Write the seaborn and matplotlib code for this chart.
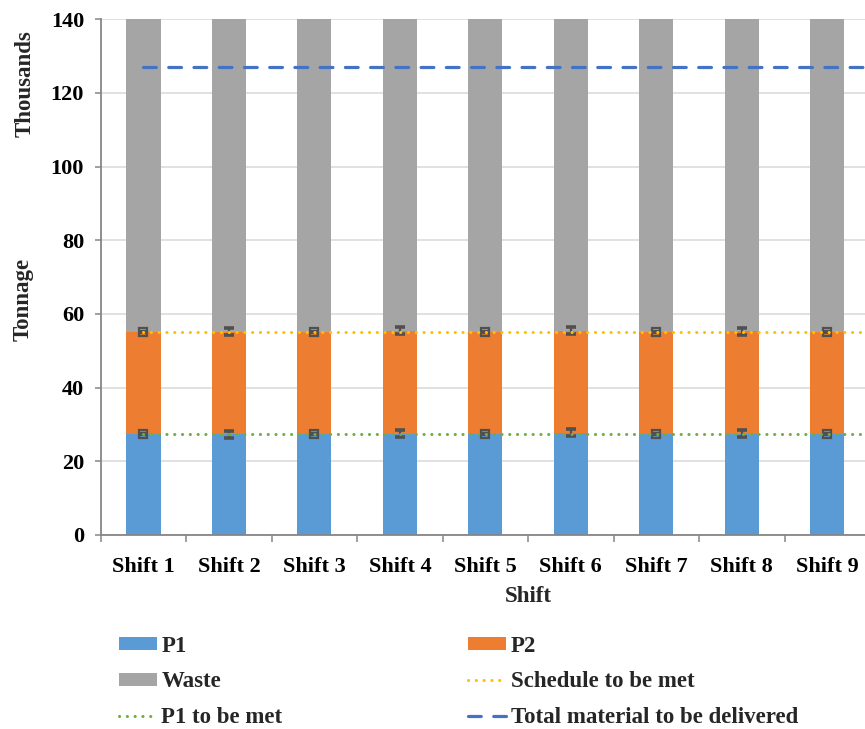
import matplotlib
matplotlib.use("Agg")
import matplotlib.pyplot as plt
from matplotlib.patches import Patch
from matplotlib.lines import Line2D
import numpy as np
import pandas as pd
import seaborn as sns

# ---- data (tonnage, thousands) ----
shifts = ["Shift 1", "Shift 2", "Shift 3", "Shift 4", "Shift 5",
          "Shift 6", "Shift 7", "Shift 8", "Shift 9"]
p1 = [27.5, 27.4, 27.4, 27.5, 27.5, 27.8, 27.5, 27.5, 27.5]
p2 = [27.7, 27.8, 27.6, 27.9, 27.7, 27.7, 27.7, 27.8, 27.6]
waste = [100.0, 100.0, 100.0, 100.0, 100.0, 100.0, 100.0, 100.0, 100.0]
p1_err = [0.25, 0.95, 0.25, 0.95, 0.25, 0.95, 0.25, 0.95, 0.25]
p2_err = [0.25, 0.95, 0.25, 0.95, 0.25, 0.95, 0.25, 0.95, 0.25]
p1_target = 27.4
schedule_target = 55.0
total_target = 127.0

C_P1 = "#5b9bd5"
C_P2 = "#ed7d31"
C_WASTE = "#a5a5a5"
C_SCHED = "#ffc000"
C_P1T = "#70ad47"
C_TOTAL = "#4472c4"
C_ERR = "#505050"

sns.set_theme(style="white")
plt.rcParams["font.family"] = ["Liberation Serif", "DejaVu Serif"]
plt.rcParams["font.weight"] = "bold"

df = pd.DataFrame({"shift": shifts, "p1": p1, "p2": p2, "waste": waste})
df["p12"] = df["p1"] + df["p2"]
df["total"] = df["p12"] + df["waste"]

fig = plt.figure(figsize=(8.65, 7.29), dpi=100)
W, H = 865, 729
x0, x1, y0, y1 = 100.7, 870.0, 535.0, 19.3
ax = fig.add_axes([x0 / W, 1 - y0 / H, (x1 - x0) / W, (y0 - y1) / H])

# stacked bars: draw cumulative heights back to front
for col, c in [("total", C_WASTE), ("p12", C_P2), ("p1", C_P1)]:
    sns.barplot(data=df, x="shift", y=col, color=c, width=0.4,
                errorbar=None, saturation=1, ax=ax, zorder=2,
                linewidth=0)

# error bars on the stacked tops; small ones are drawn with a square marker
xs = np.arange(len(shifts))
p1e = np.array(p1_err)
p2e = np.array(p2_err)
small = p1e < 0.5
for tops, errs in [(df["p1"].to_numpy(), p1e), (df["p12"].to_numpy(), p2e)]:
    ax.errorbar(xs[~small], tops[~small], yerr=errs[~small], fmt="none",
                ecolor=C_ERR, elinewidth=1.6, capsize=3.4, capthick=2.6,
                zorder=4)
    ax.errorbar(xs[small], tops[small], yerr=errs[small], fmt="s",
                mfc="none", mec=C_ERR, mew=1.6, ms=6, ecolor=C_ERR,
                elinewidth=1.2, capsize=2.2, capthick=1.2, zorder=4)

# target lines
dot = (0, (0.05, 2.5))
ax.plot([0, 8.5], [p1_target] * 2, color=C_P1T, lw=2.2,
        linestyle=dot, dash_capstyle="round", zorder=5)
ax.plot([0, 8.5], [schedule_target] * 2, color=C_SCHED, lw=2.2,
        linestyle=dot, dash_capstyle="round", zorder=5)
ax.plot([0, 8.5], [total_target] * 2, color=C_TOTAL, lw=2.3,
        linestyle=(0, (4.0, 3.9)), dash_capstyle="round", zorder=5)

ax.set_xlim(-0.5, 8.5)
ax.set_ylim(0, 140)
ax.set_yticks(np.arange(0, 141, 20))
ax.yaxis.grid(True, color="#d9d9d9", lw=1.1, zorder=0)
ax.set_axisbelow(True)
ax.set_xlabel("")
ax.set_ylabel("")

for side in ["top", "right"]:
    ax.spines[side].set_visible(False)
for side in ["left", "bottom"]:
    ax.spines[side].set_color("#868686")
    ax.spines[side].set_linewidth(1.3)

ax.set_xticks(xs)
ax.set_xticklabels(shifts)
ax.set_xticks(np.arange(-0.5, 9.0, 1.0), minor=True)
ax.tick_params(axis="x", which="major", length=0, pad=16, labelsize=16)
ax.tick_params(axis="x", which="minor", length=5, width=1.1,
               color="#868686", direction="out", bottom=True)
ax.tick_params(axis="y", length=4, width=1.1, color="#868686",
               direction="out", left=True, pad=8, labelsize=16)
for lab in ax.get_xticklabels() + ax.get_yticklabels():
    lab.set_fontweight("bold")
    lab.set_color("black")

fig.text(528 / W, 1 - 596 / H, "Shift", ha="center", va="center",
         fontsize=16.5, fontweight="bold")
fig.text(23 / W, 1 - 299 / H, "Tonnage", ha="center", va="center",
         rotation=90, fontsize=16.5, fontweight="bold")
fig.text(25 / W, 1 - 84 / H, "Thousands", ha="center", va="center",
         rotation=90, fontsize=16.5, fontweight="bold")

handles = [
    Patch(facecolor=C_P1, edgecolor="none", label="P1"),
    Patch(facecolor=C_WASTE, edgecolor="none", label="Waste"),
    Line2D([], [], color=C_P1T, lw=2.2, linestyle=dot,
           dash_capstyle="round", label="P1 to be met"),
    Patch(facecolor=C_P2, edgecolor="none", label="P2"),
    Line2D([], [], color=C_SCHED, lw=2.2, linestyle=dot,
           dash_capstyle="round", label="Schedule to be met"),
    Line2D([], [], color=C_TOTAL, lw=2.3, linestyle=(0, (4.0, 3.9)),
           dash_capstyle="round", label="Total material to be delivered"),
]
leg = fig.legend(handles=handles, ncol=2, loc="upper left",
                 bbox_to_anchor=(119 / W, 1 - 636 / H), frameon=False,
                 prop={"size": 16.5, "weight": "bold"},
                 handlelength=1.65, handleheight=0.5, handletextpad=0.2,
                 columnspacing=8.1, labelspacing=0.63, borderaxespad=0,
                 borderpad=0)

fig.savefig("out.png", dpi=100)
